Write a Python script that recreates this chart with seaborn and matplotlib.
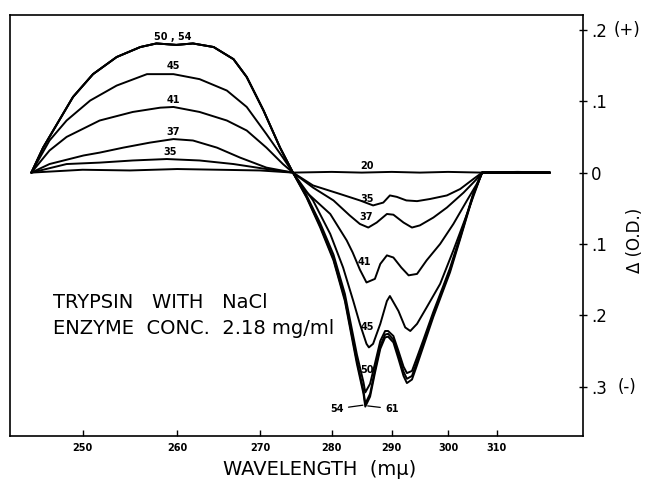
import numpy as np
import matplotlib
matplotlib.use("Agg")
import matplotlib.pyplot as plt
import seaborn as sns

# difference spectra of trypsin (delta O.D. vs wavelength in m-mu)
wl_20 = [245.2, 250, 255, 260, 265, 270, 274.6, 280, 285, 290, 295, 300, 307, 315, 323]
od_20 = [0, 0.004, 0.003, 0.005, 0.004, 0.003, 0, 0.001, 0.0, 0.001, 0.0, 0.001, 0, 0.001, 0]

wl_35 = [245.2, 248.5, 251.8, 255.3, 258.9, 262.7, 266.8, 270.9, 274.6, 277.4, 281.4, 284.7,
         286.9, 288.6, 289.7, 290.9, 292.6, 294.5, 296.8, 299.8, 302.5, 305.2, 307, 315, 323]
od_35 = [0, 0.012, 0.014, 0.017, 0.019, 0.017, 0.012, 0.005, 0, -0.018, -0.030, -0.039,
         -0.046, -0.042, -0.032, -0.034, -0.039, -0.040, -0.037, -0.032, -0.023, -0.009, 0, 0, 0]

wl_37 = [245.2, 246.9, 250.1, 251.8, 254.3, 257.1, 259.6, 261.9, 264.8, 267.6, 270.9, 274.6,
         277.4, 280.3, 283.0, 284.7, 286.1, 287.5, 289.2, 290.3, 292.1, 293.6, 295.0, 297.4,
         299.8, 303.2, 305.9, 307, 315, 323]
od_37 = [0, 0.012, 0.024, 0.028, 0.035, 0.042, 0.047, 0.045, 0.035, 0.021, 0.007, 0,
         -0.021, -0.039, -0.060, -0.072, -0.077, -0.070, -0.058, -0.059, -0.070, -0.077, -0.074, -0.063,
         -0.049, -0.028, -0.009, 0, 0, 0]

wl_41 = [245.2, 246.9, 248.5, 251.8, 255.3, 258.2, 259.6, 262.7, 266.0, 268.4, 270.9, 273.2, 274.6,
         276.2, 279.8, 282.5, 283.5, 284.7, 285.8, 287.2, 288.1, 289.2, 290.3, 291.7, 293.0, 294.5,
         296.2, 298.6, 301.1, 303.9, 305.9, 307, 315, 323]
od_41 = [0, 0.031, 0.050, 0.073, 0.085, 0.091, 0.092, 0.085, 0.073, 0.059, 0.035, 0.012, 0,
         -0.025, -0.058, -0.095, -0.112, -0.136, -0.154, -0.149, -0.128, -0.116, -0.119, -0.133, -0.144, -0.142,
         -0.123, -0.100, -0.072, -0.039, -0.016, 0, 0, 0]

wl_45 = [245.2, 246.9, 248.5, 250.8, 253.6, 256.8, 259.6, 262.7, 266.0, 268.4, 270.9, 273.2, 274.6,
         277.4, 279.8, 281.9, 283.6, 284.7, 285.8, 286.2, 286.9, 288.1, 289.2, 289.7, 291.2, 292.4,
         293.3, 294.5, 296.2, 298.6, 301.1, 303.9, 306.6, 307, 315, 323]
od_45 = [0, 0.045, 0.073, 0.101, 0.122, 0.138, 0.138, 0.131, 0.115, 0.092, 0.054, 0.021, 0,
         -0.039, -0.086, -0.133, -0.180, -0.212, -0.240, -0.245, -0.240, -0.212, -0.180, -0.173, -0.194, -0.217,
         -0.222, -0.212, -0.189, -0.156, -0.109, -0.058, -0.007, 0, 0, 0]

# 50, 54 and 61 share the positive lobe
wl_lobe = [245.2, 246.3, 247.6, 249.1, 251.1, 253.6, 256.1, 257.8, 259.9, 261.9, 264.4, 266.8,
           268.4, 270.5, 272.8, 274.6]
od_lobe = [0, 0.035, 0.068, 0.106, 0.138, 0.162, 0.176, 0.181, 0.179, 0.181, 0.176, 0.159,
           0.134, 0.087, 0.035, 0]

wl_trough = [276.5, 278.4, 280.3, 282.2, 284.2, 285.3, 285.6, 286.4, 287.2, 288.1, 288.9, 289.4,
             290.3, 291.2, 292.1, 292.7, 293.6, 294.4, 295.6, 297.4, 299.2, 300.4, 302.5, 305.2,
             307, 315, 323]
od_50 = [-0.032, -0.071, -0.115, -0.170, -0.255, -0.294, -0.308, -0.296, -0.268, -0.236, -0.222, -0.222,
         -0.229, -0.250, -0.272, -0.281, -0.278, -0.261, -0.235, -0.195, -0.158, -0.134, -0.089, -0.029,
         0, 0, 0]
od_54 = [-0.034, -0.075, -0.121, -0.177, -0.264, -0.306, -0.324, -0.310, -0.277, -0.243, -0.227, -0.226,
         -0.234, -0.256, -0.279, -0.289, -0.285, -0.267, -0.240, -0.199, -0.161, -0.137, -0.091, -0.030,
         0, 0, 0]
od_61 = [-0.035, -0.077, -0.123, -0.180, -0.268, -0.310, -0.328, -0.314, -0.281, -0.247, -0.231, -0.230,
         -0.238, -0.261, -0.285, -0.295, -0.290, -0.272, -0.244, -0.202, -0.164, -0.140, -0.093, -0.031,
         0, 0, 0]

x_ticks = [250, 260, 270, 280, 290, 300, 310]
y_ticks = [-0.3, -0.2, -0.1, 0, 0.1, 0.2]
y_ticklabels = [".3", ".2", ".1", "0", ".1", ".2"]

# the chart paper is not linear in wavelength: calibrate it from the printed ticks
scale_wl = [240, 250, 260, 270, 280, 290, 300, 310, 320, 330, 340]
scale_pos = [-24, 82.7, 177.3, 260, 331.7, 391.7, 448, 496.7, 538.7, 575.7, 609]


def fwd(w):
    return np.interp(w, scale_wl, scale_pos)


def inv(p):
    return np.interp(p, scale_pos, scale_wl)


sns.set_style("white")
plt.rcParams['font.family'] = ['DejaVu Sans']
plt.rcParams.update({"text.color": "black", "axes.labelcolor": "black",
                     "xtick.color": "black", "ytick.color": "black"})

fig = plt.figure(figsize=(6.47, 4.87), dpi=100)
ax = fig.add_axes([0.0155, 0.1047, 0.8852, 0.8645])

curves = [
    (wl_20, od_20),
    (wl_35, od_35),
    (wl_37, od_37),
    (wl_41, od_41),
    (wl_45, od_45),
    (wl_lobe + wl_trough, od_lobe + od_50),
    (wl_lobe + wl_trough, od_lobe + od_54),
    (wl_lobe + wl_trough, od_lobe + od_61),
]
for wl, od in curves:
    sns.lineplot(x=wl, y=od, color="black", lw=1.4, estimator=None, sort=False, ax=ax)

ax.set_xscale("function", functions=(fwd, inv))
ax.set_xlim(243.2, 332.1)
ax.set_ylim(-0.3692, 0.2209)

ax.set_xticks(x_ticks)
ax.set_xticklabels([str(t) for t in x_ticks], fontsize=7, fontweight="bold")
ax.set_yticks(y_ticks)
ax.set_yticklabels(y_ticklabels, fontsize=12)
ax.yaxis.tick_right()
ax.tick_params(axis="x", direction="in", length=4, width=1, pad=5, bottom=True)
ax.tick_params(axis="y", direction="inout", length=6, width=1, pad=3, right=True, left=False)
for s in ax.spines.values():
    s.set_linewidth(1.2)
    s.set_color("black")

ax.yaxis.set_label_position("right")
ax.set_ylabel("Δ (O.D.)", fontsize=12)
ax.yaxis.set_label_coords(1.0756, 0.4656)
fig.text(0.969, 0.938, "(+)", fontsize=12, ha="center", va="center")
fig.text(0.969, 0.205, "(-)", fontsize=12, ha="center", va="center")
fig.text(0.4946, 0.035, "WAVELENGTH  (mμ)", fontsize=14, ha="center", va="center")

# curve labels
lab = dict(fontsize=7, fontweight="bold", ha="center", va="center")
ax.text(259.5, 0.190, "50 , 54", **lab)
ax.text(259.6, 0.149, "45", **lab)
ax.text(259.6, 0.102, "41", **lab)
ax.text(259.6, 0.057, "37", **lab)
ax.text(259.3, 0.029, "35", **lab)
ax.text(285.9, 0.009, "20", **lab)
ax.text(285.9, -0.037, "35", **lab)
ax.text(285.7, -0.062, "37", **lab)
ax.text(285.5, -0.125, "41", **lab)
ax.text(285.9, -0.217, "45", **lab)
ax.text(285.9, -0.277, "50", **lab)
leader = dict(arrowstyle="-", lw=0.9, color="black", shrinkA=1, shrinkB=0)
ax.annotate("54", xy=(285.2, -0.326), xytext=(280.9, -0.331), arrowprops=leader, **lab)
ax.annotate("61", xy=(286.0, -0.327), xytext=(290.0, -0.331), arrowprops=leader, **lab)

ax.text(0.075, 0.318, "TRYPSIN   WITH   NaCl", transform=ax.transAxes, fontsize=14, va="center")
ax.text(0.075, 0.256, "ENZYME  CONC.  2.18 mg/ml", transform=ax.transAxes, fontsize=14, va="center")

fig.savefig("out.png", dpi=100)
